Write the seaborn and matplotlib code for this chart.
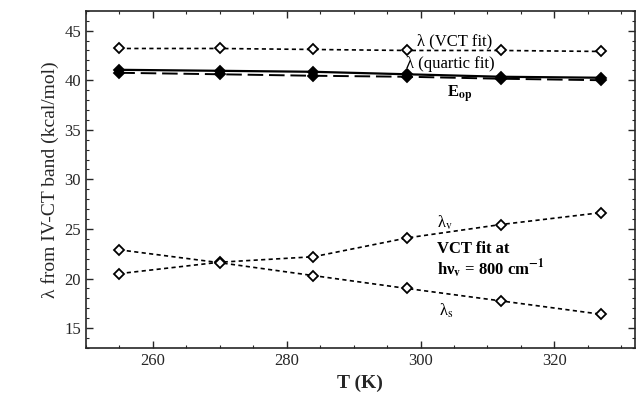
import numpy as np
import pandas as pd
import matplotlib
matplotlib.use("Agg")
import matplotlib.pyplot as plt
import seaborn as sns
from matplotlib.ticker import MultipleLocator

# data
T = [255, 270, 284, 298, 312, 327]
lam_vct = [43.2, 43.2, 43.1, 43.0, 43.0, 42.9]
lam_quartic = [41.05, 40.95, 40.85, 40.6, 40.35, 40.25]
E_op = [40.75, 40.6, 40.45, 40.35, 40.15, 40.0]
lam_v = [20.5, 21.65, 22.2, 24.1, 25.45, 26.65]
lam_s = [22.9, 21.6, 20.3, 19.0, 17.75, 16.4]

sns.set_style("ticks")
plt.rcParams['font.family'] = ['Liberation Serif', 'DejaVu Serif']
plt.rcParams['mathtext.fontset'] = 'stix'

fig = plt.figure(figsize=(6.36, 4.0), dpi=100)
ax = fig.add_axes([0.135, 0.13, 0.863, 0.843])

short = (0, (2.5, 2.0))
series = [
    (lam_vct, short, 1.2, "white"),
    (lam_quartic, "-", 1.6, "black"),
    (E_op, (0, (8, 3)), 1.4, "black"),
    (lam_v, short, 1.2, "white"),
    (lam_s, short, 1.2, "white"),
]
for vals, ls, lw, fc in series:
    df = pd.DataFrame({"T": T, "val": vals})
    sns.lineplot(data=df, x="T", y="val", ax=ax, color="black", linestyle=ls,
                 linewidth=lw, marker="D", markersize=5, markerfacecolor=fc,
                 markeredgecolor="black", markeredgewidth=1.3)

ax.set_xlim(250, 332)
ax.set_ylim(13, 47)
ax.xaxis.set_major_locator(MultipleLocator(20))
ax.xaxis.set_minor_locator(MultipleLocator(5))
ax.yaxis.set_major_locator(MultipleLocator(5))
ax.yaxis.set_minor_locator(MultipleLocator(1))
ax.tick_params(which="both", direction="in", top=True, right=True, labelsize=12)
ax.tick_params(which="major", length=5, width=1)
ax.tick_params(which="minor", length=2.5, width=0.8)
for s in ax.spines.values():
    s.set_linewidth(1.2)

ax.set_xlabel("T (K)", fontsize=14, fontweight="bold")
ax.set_ylabel("λ from IV-CT band (kcal/mol)", fontsize=14)

tk = dict(fontsize=12, color="black", va="center", ha="left")
ax.text(299.4, 43.9, "λ (VCT fit)", **tk)
ax.text(297.9, 41.6, "λ (quartic fit)", **tk)
ax.text(304.0, 38.6, r"E$_{\mathbf{op}}$", fontweight="bold", **tk)
ax.text(302.4, 25.6, r"λ$_{\mathrm{v}}$", **tk)
ax.text(302.4, 23.0, "VCT fit at", fontweight="bold", **tk)
ax.text(302.4, 20.9, r"hν$_{\mathbf{v}}$ = 800 cm$^{\mathbf{-1}}$", fontweight="bold", **tk)
ax.text(302.7, 16.8, r"λ$_{\mathrm{s}}$", **tk)

fig.savefig("out.png", dpi=100)
